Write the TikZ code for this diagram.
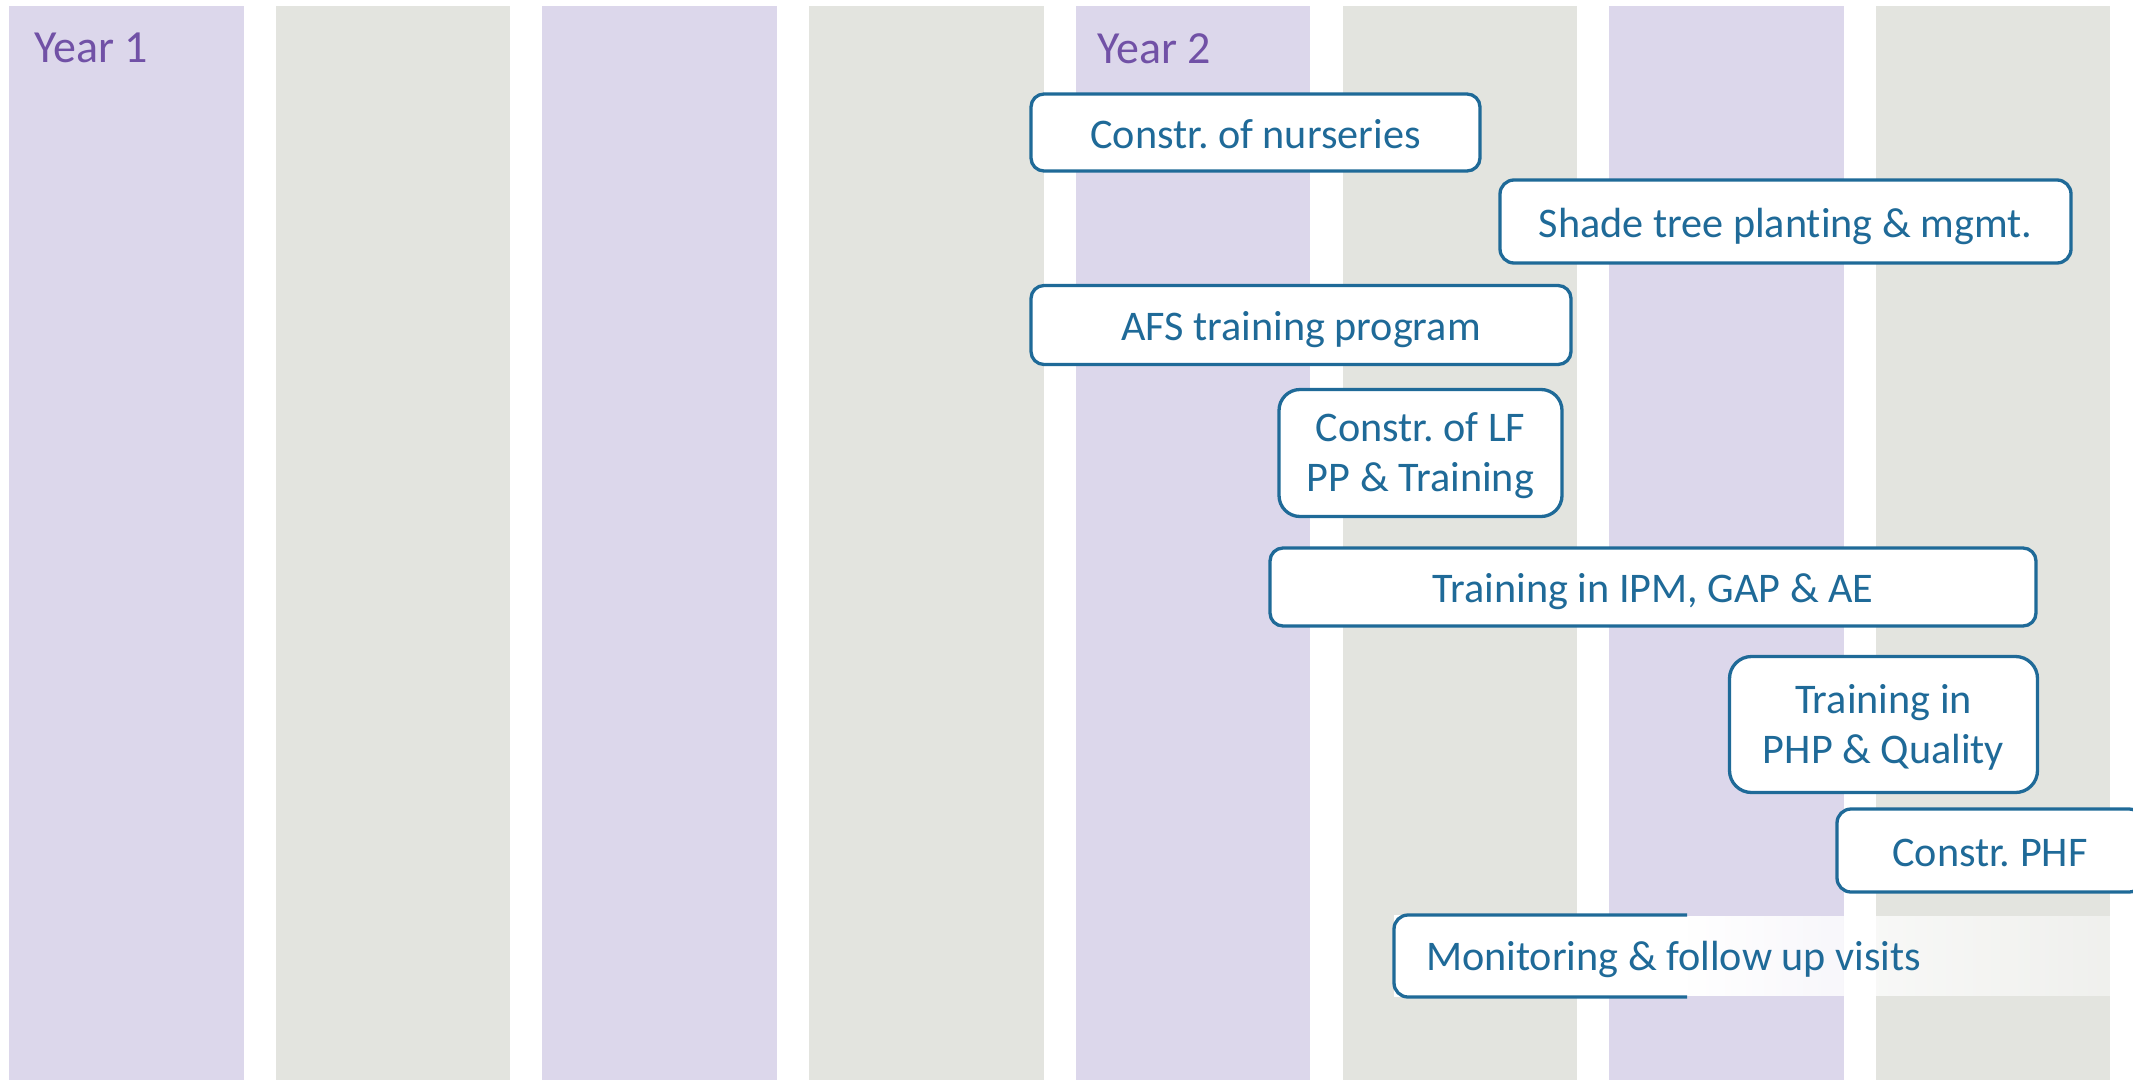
\documentclass[tikz,border=0pt]{standalone}
\usepackage{fontspec}
\setmainfont{Carlito}[Ligatures=NoCommon]
\usetikzlibrary{fadings}
\frenchspacing
\definecolor{colpurple}{HTML}{DCD7EB}
\definecolor{colgrey}{HTML}{E3E4DF}
\definecolor{taskblue}{HTML}{1F6A98}
\definecolor{yearpurple}{HTML}{7151A6}
\tikzfading[name=monfade, left color=transparent!0, right color=transparent!55]
\begin{document}
\begin{tikzpicture}[x=1pt,y=-1pt,
  taskbox/.style={draw=taskblue, line width=3.3pt, fill=white, text=taskblue,
    font=\fontsize{42.2}{50}\selectfont, inner sep=0pt, outer sep=0pt, align=center},
  oneline/.style={text height=31pt, text depth=0pt},
  twoline/.style={text height=85pt, text depth=8pt},
  tasktext/.style={text=taskblue, font=\fontsize{42.2}{50}\selectfont, inner sep=0pt, outer sep=0pt},
  yearlabel/.style={text=yearpurple, font=\fontsize{46}{55}\selectfont, anchor=base west, inner sep=0pt}]
\useasboundingbox (0,0) rectangle (2133,1079);
% columns
\foreach \i/\c in {0/colpurple,1/colgrey,2/colpurple,3/colgrey,4/colpurple,5/colgrey,6/colpurple,7/colgrey}
  \fill[\c] ({9+266.7*\i},6) rectangle ++(234.5,1075);
% year labels
\node[yearlabel] (y1) at (34,62) {Year 1};
\node[yearlabel] (y2) at (1097,63) {Year 2};
% tasks
\node[taskbox, oneline, rounded corners=13pt, minimum width=449pt, minimum height=77pt] (t1) at (1255.5,132.5) {Constr. of nurseries};
\node[taskbox, oneline, rounded corners=14pt, minimum width=571pt, minimum height=83pt] (t2) at (1785.5,221.5) {Shade tree planting \& mgmt.};
\node[taskbox, oneline, rounded corners=13pt, minimum width=540pt, minimum height=79pt] (t3) at (1301,325) {AFS training program};
\node[taskbox, twoline, rounded corners=21pt, minimum width=283pt, minimum height=127pt] (t4) at (1420.5,453) {Constr. of LF\\PP \& Training};
\node[taskbox, oneline, rounded corners=13pt, minimum width=766pt, minimum height=78pt] (t5) at (1653,587) {Training in IPM, GAP \& AE};
\node[taskbox, twoline, rounded corners=22pt, minimum width=308pt, minimum height=136pt] (t6) at (1883.5,724.5) {Training in\\PHP \& Quality};
\node[taskbox, oneline, rounded corners=14pt, minimum width=306pt, minimum height=83pt] (t7) at (1990,850.5) {Constr. PHF};
% monitoring bar
\fill[white, path fading=monfade] (1687,916.5) rectangle (2110,995.5);
\node[fill=white, inner sep=0pt, outer sep=0pt, minimum width=293pt, minimum height=82pt] (mon) at (1540.5,956) {};
\draw[taskblue, line width=3.3pt, rounded corners=14pt] (mon.north east) -- (mon.north west) -- (mon.south west) -- (mon.south east);
\node[tasktext, anchor=base west] (monlabel) at (1426,970) {Monitoring \& follow up visits};
\end{tikzpicture}
\end{document}
